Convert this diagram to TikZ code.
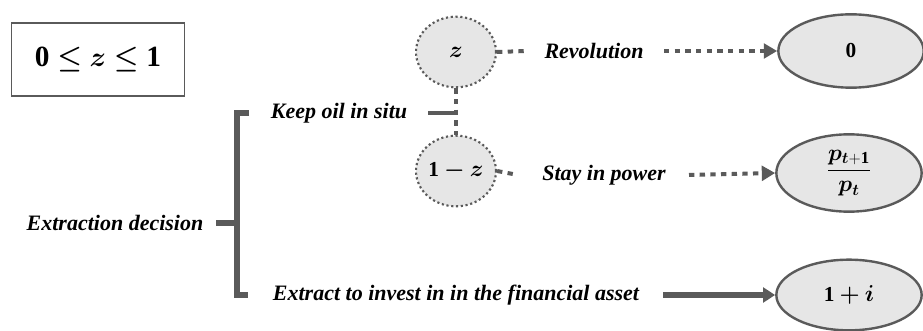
\documentclass[tikz,border=0pt]{standalone}
\usepackage{amsmath}
\usepackage{bm}
\usepackage{fontspec}
\setmainfont{Liberation Serif}
\usetikzlibrary{shapes.geometric,arrows.meta}
\definecolor{lc}{HTML}{5A5A5A}
\definecolor{fillg}{HTML}{E6E6E6}
\begin{document}
\begin{tikzpicture}[x=0.75pt,y=-0.75pt,
  lbl/.style={font=\fontsize{16.5}{19}\selectfont\bfseries\itshape, inner sep=0pt, anchor=center},
  circ/.style={ellipse, draw=lc, fill=fillg, line width=1.6pt, dotted, minimum width=60pt, minimum height=53pt, inner sep=0pt, font=\fontsize{16}{19}\selectfont},
  outc/.style={ellipse, draw=lc, fill=fillg, line width=1.8pt, minimum width=109pt, minimum height=55pt, inner sep=0pt, font=\fontsize{16}{19}\selectfont},
  dotline/.style={draw=lc, line width=3pt, dash pattern=on 4pt off 4pt},
  dotarrow/.style={dotline, -{Triangle[length=10pt,width=11pt]}},
  solidarrow/.style={draw=lc, line width=3.8pt, -{Triangle[length=9pt,width=11pt]}},
  brack/.style={draw=lc, line width=3.8pt},
]
\useasboundingbox (0,0) rectangle (923,331);
% constraint box
\node[draw=lc, line width=1.1pt, minimum width=130pt, minimum height=54.5pt, inner sep=0pt,
      font=\fontsize{22}{26}\selectfont] (box) at (98,59.5) {$\mathbf{0}\bm{\le}\bm{z}\bm{\le}\mathbf{1}$};
% probability circles
\node[circ] (z) at (456,52) {$\bm{z}$};
\node[circ] (omz) at (456,171) {$\mathbf{1}\bm{-}\bm{z}$};
% outcome ellipses
\node[outc] (e0) at (851,51) {$\mathbf{0}$};
\node[outc, minimum height=58pt, font=\fontsize{18}{21}\selectfont] (ep) at (849,173) {$\dfrac{\bm{p}_{\bm{t}\mathbf{+1}}}{\bm{p}_{\bm{t}}}$};
\node[outc, minimum height=53pt] (ei) at (849,295) {$\mathbf{1}\bm{+}\bm{i}$};
% labels
\node[lbl] (rev) at (594,51) {Revolution};
\node[lbl] (stay) at (604,175) {Stay in power};
\node[lbl] (keep) at (339,113) {Keep oil in situ};
\node[lbl] (extd) at (115,223) {Extraction decision};
\node[lbl] (extr) at (456,295) {Extract to invest in in the financial asset};
% coordinates
\coordinate (zr) at (526,51);
\coordinate (omzr) at (518,175);
\coordinate (mid) at (456,113);
\coordinate (keepr) at (428,113);
\coordinate (brtop) at (249,113);
\coordinate (brbot) at (248,295);
\coordinate (brmid) at (237,223);
\coordinate (extdr) at (216,223);
\coordinate (revr) at (664,51);
\coordinate (stayr) at (689,175);
\coordinate (extrr) at (663,295);
% connectors
\draw[dotline] (z.south) -- (omz.north);
\draw[draw=lc, line width=3.5pt] (keepr) -- (mid);
\draw[dotline] (z.east) -- (zr);
\draw[dotline] (omz.east) -- (omzr);
\draw[dotarrow] (revr) -- (e0.west);
\draw[dotarrow] (stayr) -- (ep.west);
\draw[solidarrow] (extrr) -- (ei.west);
\draw[brack] (brtop) -| (brbot -| brmid) -- (brbot);
\draw[brack] (extdr) -- (brmid);
\end{tikzpicture}
\end{document}
